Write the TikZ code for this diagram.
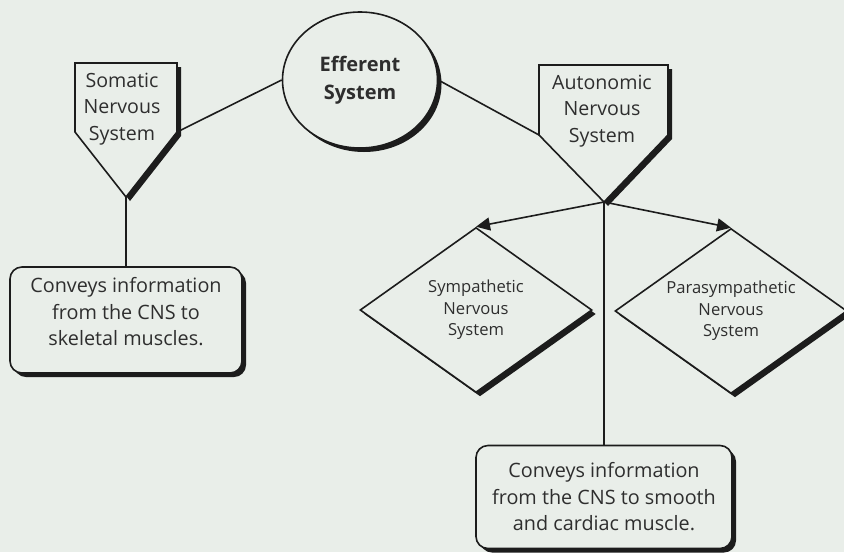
\documentclass[tikz,border=0pt]{standalone}
\usepackage{fontspec}
\setmainfont{Open Sans}
\usepackage{tikz}
\usetikzlibrary{arrows.meta,positioning,shapes.geometric,shadows}
\definecolor{ink}{HTML}{1C1C1C}
\definecolor{paper}{HTML}{E9EEE9}
\definecolor{type}{HTML}{2E2E2E}

\begin{document}
\begin{tikzpicture}[
  x=0.5pt,y=-0.5pt,
  shadowed/.style={draw=ink,line width=0.8pt,fill=paper,drop shadow={shadow xshift=2pt,shadow yshift=-2pt,fill=ink,opacity=1}},
  label text/.style={text=type,font=\fontsize{9.8}{13.4}\selectfont,align=center,inner sep=0pt},
  hub/.style={shadowed,ellipse,minimum width=77.5pt,minimum height=68pt,inner sep=0pt,align=center,text=type,font=\bfseries\fontsize{10}{14}\selectfont},
  branch/.style={shadowed,diamond,shape aspect=1.4,minimum width=116pt,minimum height=82.5pt,inner sep=0pt,align=center,text=type,font=\fontsize{8.3}{10.75}\selectfont},
  info/.style={shadowed,rounded corners=6pt,inner sep=0pt,align=center,text=type,font=\fontsize{9.9}{13.25}\selectfont},
  link/.style={draw=ink,line width=0.8pt},
  arrow/.style={link,-{Triangle[length=7pt,width=6.5pt]}}
]
  \fill[paper] (0,0) rectangle (844,552);
  \useasboundingbox (0,0) rectangle (844,552);

  \node[hub] (eff) at (360,80) {Efferent\\System};

  \draw[shadowed] (75,63) -- (177,63) -- (177,132) coordinate (som right)
    -- (126,197) coordinate (som tip) -- (75,132) -- cycle;
  \node[label text] (som) at (122,109) {Somatic\\Nervous\\System};

  \draw[shadowed] (539,65) -- (668,65) -- (668,135)
    -- (604,202) coordinate (aut tip) -- (539,135) coordinate (aut left) -- cycle;
  \node[label text] (aut) at (602,111) {Autonomic\\Nervous\\System};

  \node[branch] (symp) at (476,310) {Sympathetic\\Nervous\\System};
  \node[branch] (para) at (731,311) {Parasympathetic\\Nervous\\System};

  \node[info,minimum width=116pt,minimum height=53pt] (skel) at (126,320)
    {Conveys information\\from the CNS to\\skeletal muscles.\\[-5pt]};
  \node[info,minimum width=128pt,minimum height=51.5pt] (smooth) at (604,497)
    {Conveys information\\from the CNS to smooth\\and cardiac muscle.};

  \draw[link] (eff.west) -- (som right);
  \draw[link] (eff.east) -- (aut left);
  \draw[link] (som tip) -- (som tip |- skel.north);
  \draw[arrow] (aut tip) -- (symp.north);
  \draw[arrow] (aut tip) -- (para.north);
  \draw[link] (aut tip) -- (aut tip |- smooth.north);
\end{tikzpicture}
\end{document}
